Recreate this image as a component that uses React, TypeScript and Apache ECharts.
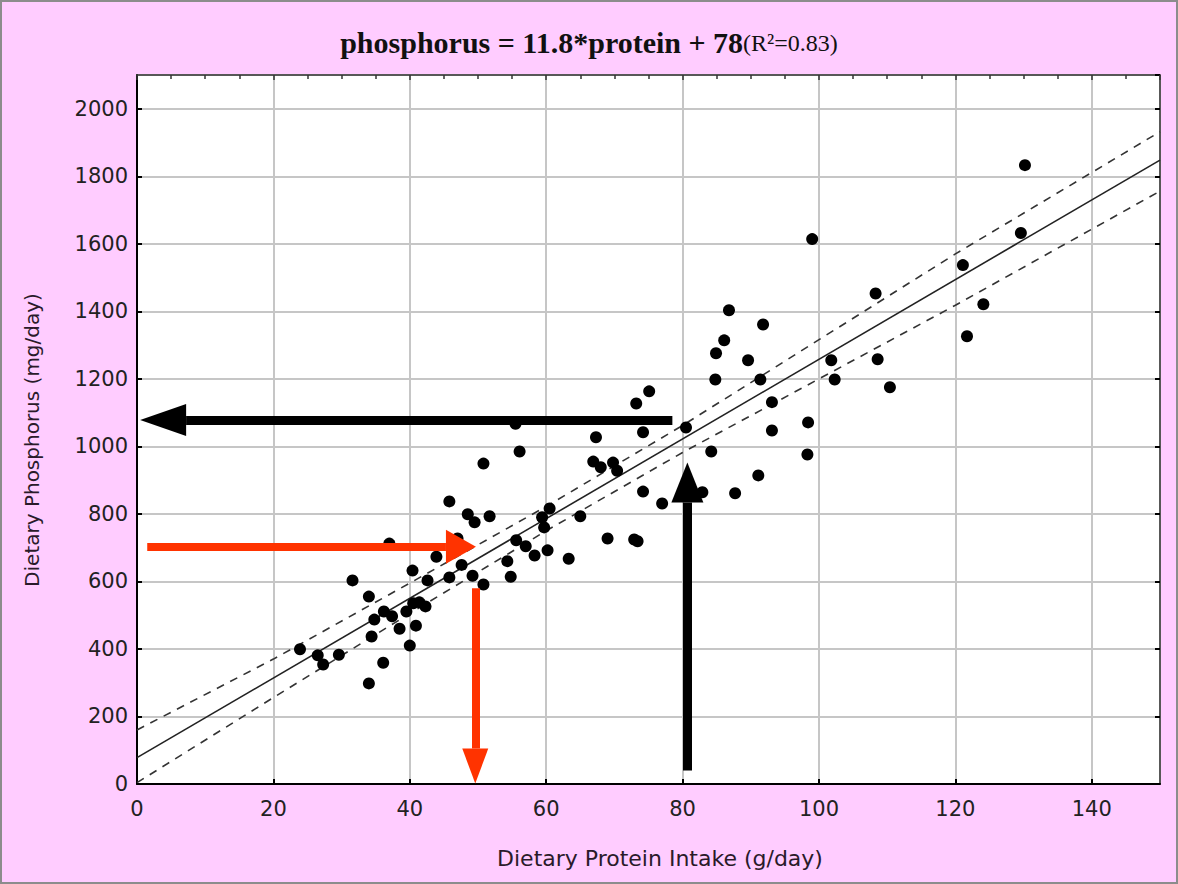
import React, { useEffect, useRef } from "react";
import * as echarts from "echarts";

// Dietary protein intake (g/day) of each subject
const proteinIntake = [
  23.9, 26.5, 27.3, 29.6, 31.6, 34.0, 34.0, 34.4, 34.8, 36.1, 36.2, 37.0, 37.4, 38.5, 39.5, 40.0,
  40.4, 40.5, 40.9, 41.4, 42.3, 42.6, 43.9, 45.8, 45.8, 47.0, 47.6, 48.5, 49.2, 49.5, 50.8, 50.8,
  51.7, 54.3, 54.8, 55.5, 55.6, 56.1, 57.0, 58.3, 59.4, 59.7, 60.2, 60.5, 63.3, 65.0, 66.9, 67.3,
  68.0, 69.0, 69.8, 70.4, 72.9, 73.4, 73.2, 74.2, 74.2, 75.1, 77.0, 80.5, 82.9, 84.2, 84.8, 84.9,
  86.1, 86.8, 87.7, 89.6, 91.1, 91.4, 91.8, 93.1, 93.1, 98.3, 98.4, 99.0, 101.8, 102.3, 108.3,
  108.6, 110.4, 121.1, 121.7, 124.1, 129.6, 130.2,
];
// Dietary phosphorus intake (mg/day) of each subject
const phosphorusIntake = [
  399, 381, 354, 383, 603, 555, 298, 437, 487, 359, 511, 712, 497, 460, 511, 410,
  632, 535, 469, 538, 526, 603, 673, 837, 612, 727, 649, 799, 617, 775, 591, 949,
  793, 660, 614, 1067, 722, 985, 704, 677, 790, 760, 692, 816, 667, 793, 955, 1027,
  938, 727, 952, 928, 724, 719, 1127, 1042, 866, 1163, 831, 1056, 864, 985, 1198, 1276,
  1314, 1403, 861, 1255, 914, 1198, 1361, 1131, 1047, 976, 1071, 1614, 1255, 1198, 1453,
  1258, 1175, 1537, 1326, 1421, 1632, 1833,
];

// Regression line and its confidence band
const regressionLine = [[0, 78], [150, 1848]];
const bandX = [0, 20, 40, 60, 80, 100, 120, 150];
const bandUpper = [160, 370, 595, 822, 1062, 1316, 1570, 1932];
const bandLower = [4, 256, 505, 750, 982, 1200, 1418, 1756];

// Annotation arrows: [start, end-of-shaft] in data units
const blackArrowH = [[78.5, 1078], [7.2, 1078]];
const blackArrowV = [[80.7, 40], [80.7, 834]];
const redArrowH = [[1.5, 703], [45.3, 703]];
const redArrowV = [[49.6, 580], [49.6, 105]];

const xTickInterval = 20;
const yTickInterval = 200;

const titleMain = "phosphorus = 11.8*protein + 78";
const titleR2 = "(R²=0.83)";
const xAxisName = "Dietary Protein Intake (g/day)";
const yAxisName = "Dietary Phosphorus (mg/day)";

export default function App() {
  const ref = useRef<HTMLDivElement>(null);
  useEffect(() => {
    document.body.style.margin = "0";
    const chart = echarts.init(ref.current!, null, { renderer: "svg" });
    const points = proteinIntake.map((x, i) => [x, phosphorusIntake[i]]);
    const upper = bandX.map((x, i) => [x, bandUpper[i]]);
    const lower = bandX.map((x, i) => [x, bandLower[i]]);
    const labelFont = {
      fontFamily: "DejaVu Sans",
      fontSize: 21,
      color: "#222",
    };
    const arrow = (seg: number[][], color: string, width: number, head: number[]) => [
      { coord: seg[0], symbol: "none", lineStyle: { color, width, type: "solid" } },
      {
        coord: seg[1],
        symbol: "triangle",
        symbolSize: head,
        symbolOffset: [0, -head[1] / 2],
        itemStyle: { color },
      },
    ];
    chart.setOption({
      animation: false,
      backgroundColor: "#FFCCFF",
      title: {
        text: `{a|${titleMain}}{b|${titleR2}}`,
        left: "center",
        top: 22,
        textStyle: {
          rich: {
            a: {
              fontFamily: "Liberation Serif",
              fontWeight: "bold",
              fontSize: 30,
              color: "#111",
              verticalAlign: "bottom",
            },
            b: {
              fontFamily: "Liberation Serif",
              fontWeight: "normal",
              fontSize: 24,
              color: "#111",
              verticalAlign: "bottom",
              padding: [0, 0, 2, 0],
            },
          },
        },
      },
      grid: {
        left: 137,
        right: 18,
        top: 75,
        bottom: 100,
        show: true,
        backgroundColor: "#ffffff",
        borderWidth: 0,
      },
      xAxis: [
        {
          type: "value",
          min: 0,
          max: 150,
          interval: xTickInterval,
          position: "bottom",
          axisLine: { show: true, onZero: false, lineStyle: { color: "#000", width: 2 } },
          axisTick: { show: true, inside: true, length: 5, lineStyle: { color: "#000", width: 2 } },
          axisLabel: { ...labelFont, margin: 14, showMaxLabel: false, formatter: (v: number) => String(v) },
          splitLine: { show: true, lineStyle: { color: "#c6c6c6", width: 2 } },
        },
        {
          type: "value",
          min: 0,
          max: 150,
          interval: xTickInterval,
          position: "top",
          axisLine: { show: true, onZero: false, lineStyle: { color: "#333", width: 1.5 } },
          axisTick: { show: true, inside: true, length: 5, lineStyle: { color: "#333", width: 1.5 } },
          minorTick: { show: true, splitNumber: 4, length: 4, lineStyle: { color: "#333", width: 1.5 } },
          axisLabel: { show: false },
          splitLine: { show: false },
        },
      ],
      yAxis: [
        {
          type: "value",
          min: 0,
          max: 2100,
          interval: yTickInterval,
          position: "left",
          axisLine: { show: true, onZero: false, lineStyle: { color: "#000", width: 2 } },
          axisTick: { show: true, inside: true, length: 5, lineStyle: { color: "#000", width: 2 } },
          axisLabel: { ...labelFont, margin: 9, showMaxLabel: false, formatter: (v: number) => String(v) },
          splitLine: { show: true, lineStyle: { color: "#c6c6c6", width: 2 } },
        },
        {
          type: "value",
          min: 0,
          max: 2100,
          interval: yTickInterval,
          position: "right",
          axisLine: { show: true, onZero: false, lineStyle: { color: "#333", width: 1.5 } },
          axisTick: { show: true, inside: true, length: 5, lineStyle: { color: "#000", width: 2 } },
          axisLabel: { show: false },
          splitLine: { show: false },
        },
      ],
      graphic: [
        {
          type: "rect",
          silent: true,
          shape: { x: 1, y: 1, width: 1176, height: 882 },
          style: { fill: "none", stroke: "#8c8c8c", lineWidth: 2 },
          z: 100,
        },
        {
          type: "text",
          x: 660,
          y: 858,
          style: {
            text: xAxisName,
            font: "22px 'DejaVu Sans'",
            fill: "#2a1a2a",
            align: "center",
            verticalAlign: "middle",
          },
        },
        {
          type: "text",
          x: 32,
          y: 440,
          rotation: Math.PI / 2,
          style: {
            text: yAxisName,
            font: "20px 'DejaVu Sans'",
            fill: "#2a1a2a",
            align: "center",
            verticalAlign: "middle",
          },
        },
      ],
      series: [
        {
          type: "line",
          data: upper,
          symbol: "none",
          silent: true,
          lineStyle: { color: "#333", width: 1.6, type: [8, 7] },
          z: 3,
        },
        {
          type: "line",
          data: lower,
          symbol: "none",
          silent: true,
          lineStyle: { color: "#333", width: 1.6, type: [8, 7] },
          z: 3,
        },
        {
          type: "line",
          data: regressionLine,
          symbol: "none",
          silent: true,
          lineStyle: { color: "#222", width: 1.6 },
          z: 3,
        },
        {
          type: "scatter",
          data: points,
          symbol: "circle",
          symbolSize: 12,
          itemStyle: { color: "#000", opacity: 1 },
          silent: true,
          z: 4,
        },
        {
          type: "line",
          data: [],
          z: 6,
          markLine: {
            silent: true,
            animation: false,
            label: { show: false },
            emphasis: { disabled: true },
            data: [
              arrow(blackArrowH, "#000", 9, [32, 46]),
              arrow(blackArrowV, "#000", 9, [32, 40]),
              arrow(redArrowH, "#FF3300", 8, [34, 30]),
              arrow(redArrowV, "#FF3300", 8, [26, 35]),
            ],
          },
        },
      ],
    });
    return () => chart.dispose();
  }, []);
  return <div ref={ref} style={{ width: 1178, height: 884 }} />;
}
